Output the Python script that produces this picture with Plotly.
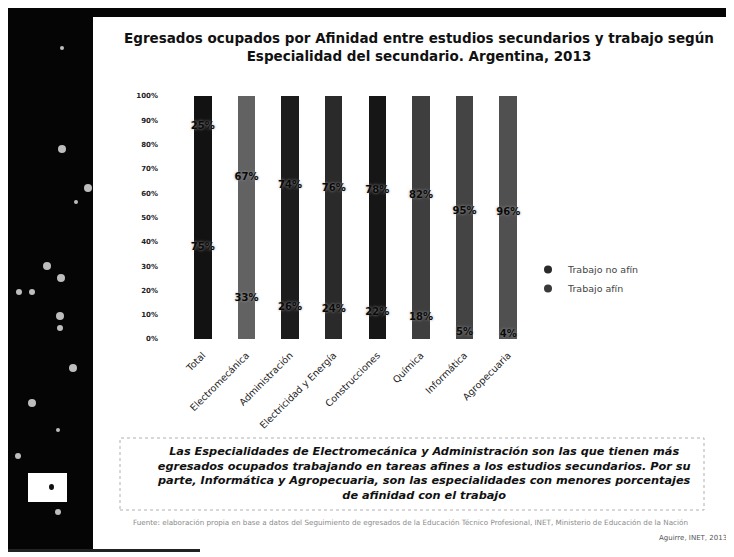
import plotly.graph_objects as go

categories = ["Total", "Electromecánica", "Administración", "Electricidad y Energía",
              "Construcciones", "Química", "Informática", "Agropecuaria"]
trabajo_afin = [75, 33, 26, 24, 22, 18, 5, 4]
trabajo_no_afin = [25, 67, 74, 76, 78, 82, 95, 96]
y_ticks = [0, 10, 20, 30, 40, 50, 60, 70, 80, 90, 100]

title_text = ("Egresados ocupados por Afinidad entre estudios secundarios y trabajo según<br>"
              "Especialidad del secundario. Argentina, 2013")
note_text = ("Las Especialidades de Electromecánica y Administración son las que tienen más<br>"
             "egresados ocupados trabajando en tareas afines a los estudios secundarios. Por su<br>"
             "parte, Informática y Agropecuaria, son las especialidades con menores porcentajes<br>"
             "de afinidad con el trabajo")
source_text = ("Fuente: elaboración propia en base a datos del Seguimiento de egresados de la Educación Técnico Profesional, "
               "INET, Ministerio de Educación de la Nación")
author_text = "Aguirre, INET, 2013"

# screen coordinates (page body has an 8px offset)
OFF = 8
W, H = 734 - OFF, 557 - OFF
L, R, T, B = 181, 530, 96, 339

def px(x):
    return (x - L) / (R - L)

def py(y):
    return (B - y) / (B - T)

bar_colors = ["#121212", "#626262", "#1c1c1c", "#2a2a2a", "#161616", "#3e3e3e", "#444444", "#505050"]

fig = go.Figure()
fig.add_trace(go.Bar(x=categories, y=trabajo_afin, name="Trabajo afín",
                     marker=dict(color=bar_colors, line=dict(width=0)), width=0.4,
                     showlegend=False))
fig.add_trace(go.Bar(x=categories, y=trabajo_no_afin, name="Trabajo no afín",
                     marker=dict(color=bar_colors, line=dict(width=0)), width=0.4,
                     showlegend=False))

# data labels at segment midpoints
lab_y_low = [a / 2 for a in trabajo_afin]
lab_y_high = [a + n / 2 for a, n in zip(trabajo_afin, trabajo_no_afin)]
for ys, vals in ((lab_y_low, trabajo_afin), (lab_y_high, trabajo_no_afin)):
    fig.add_trace(go.Scatter(x=categories, y=ys, mode="text",
                             text=[f"{v}%" for v in vals],
                             textfont=dict(family="DejaVu Sans", size=10, color="#0a0a0a", weight="bold",
                                           shadow="0px 0px 3px #9a9a9a"),
                             showlegend=False, hoverinfo="skip"))

# legend entries (circle markers as in the original)
for name, col in (("Trabajo no afín", "#2a2a2a"), ("Trabajo afín", "#3a3a3a")):
    fig.add_trace(go.Scatter(x=[None], y=[None], mode="markers", name=name,
                             marker=dict(symbol="circle", size=8, color=col)))

shapes = []
shapes.append(dict(type="rect", xref="paper", yref="paper", x0=px(0), x1=px(93), y0=py(551), y1=py(8),
                   fillcolor="#050505", line=dict(width=0), layer="above"))
shapes.append(dict(type="rect", xref="paper", yref="paper", x0=px(0), x1=px(734), y0=py(17), y1=py(8),
                   fillcolor="#050505", line=dict(width=0), layer="above"))
shapes.append(dict(type="rect", xref="paper", yref="paper", x0=px(0), x1=px(200), y0=py(552), y1=py(549),
                   fillcolor="#222222", line=dict(width=0), layer="above"))
specks = [(62, 48, 2), (62, 149, 4), (88, 188, 4), (76, 202, 2), (47, 266, 4), (61, 278, 4),
          (19, 292, 3), (32, 292, 3), (60, 316, 4), (60, 328, 3), (73, 368, 4), (32, 403, 4),
          (58, 430, 2), (18, 456, 3), (58, 512, 3)]
for sx, sy, r in specks:
    shapes.append(dict(type="circle", xref="paper", yref="paper", x0=px(sx - r), x1=px(sx + r),
                       y0=py(sy + r), y1=py(sy - r), fillcolor="#bdbdbd", line=dict(width=0), layer="above"))
shapes.append(dict(type="rect", xref="paper", yref="paper", x0=px(28), x1=px(67), y0=py(502), y1=py(473),
                   fillcolor="white", line=dict(width=0), layer="above"))
shapes.append(dict(type="circle", xref="paper", yref="paper", x0=px(49), x1=px(54), y0=py(490), y1=py(484),
                   fillcolor="#111111", line=dict(width=0), layer="above"))
shapes.append(dict(type="rect", xref="paper", yref="paper", x0=px(120), x1=px(704), y0=py(510), y1=py(438),
                   fillcolor="rgba(0,0,0,0)", line=dict(width=1, color="#b0b0b0", dash="dot"), layer="above"))

annotations = [
    dict(text=title_text, xref="paper", yref="paper", x=px(419), y=py(47), xanchor="center", yanchor="middle",
         showarrow=False, font=dict(family="DejaVu Sans", size=13.5, color="#111111", weight="bold")),
    dict(text="<i>" + note_text + "</i>", xref="paper", yref="paper", x=px(424), y=py(473), xanchor="center",
         yanchor="middle", showarrow=False,
         font=dict(family="DejaVu Sans", size=11.3, color="#111111", weight="bold")),
    dict(text=source_text, xref="paper", yref="paper", x=px(410), y=py(522), xanchor="center", yanchor="middle",
         showarrow=False, font=dict(family="DejaVu Sans", size=7.2, color="#8a8a8a")),
    dict(text=author_text, xref="paper", yref="paper", x=px(729), y=py(538), xanchor="right", yanchor="middle",
         showarrow=False, font=dict(family="DejaVu Sans", size=7, color="#555555")),
]

fig.update_layout(
    width=W, height=H,
    margin=dict(l=L - OFF, r=734 - R, t=T - OFF, b=557 - B, pad=0),
    barmode="stack",
    bargap=0.6,
    paper_bgcolor="white", plot_bgcolor="white",
    font=dict(family="DejaVu Sans", color="#222222"),
    showlegend=True,
    legend=dict(x=px(528), y=py(255), xanchor="left", yanchor="top", traceorder="normal",
                font=dict(size=9.5, color="#444444"), itemwidth=30, bgcolor="rgba(0,0,0,0)",
                tracegroupgap=0),
    xaxis=dict(tickangle=-45, tickfont=dict(size=9.5, color="#222222"), showline=False,
               showgrid=False, ticks="", automargin=False, ticklabelstandoff=8),
    yaxis=dict(range=[0, 100], tickvals=y_ticks, ticktext=[f"{v}%" for v in y_ticks],
               tickfont=dict(size=7, color="#222222", weight="bold"), showgrid=False, zeroline=False,
               showline=False, ticks="", ticklabelstandoff=22, automargin=False),
    shapes=shapes,
    annotations=annotations,
)

fig.write_html("out.html")
